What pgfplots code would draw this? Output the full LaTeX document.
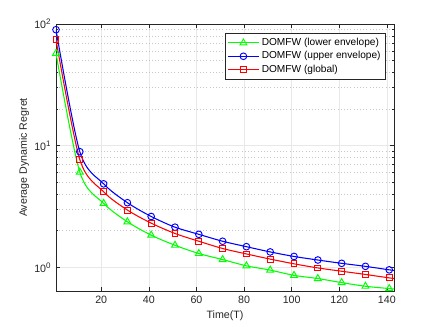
\documentclass[border=0pt]{standalone}
\usepackage{pgfplots}
\pgfplotsset{compat=1.18}
\usepackage{fontspec}
\setmainfont{Liberation Sans}
\definecolor{mgreen}{rgb}{0,1,0}
\definecolor{mblue}{rgb}{0,0,1}
\definecolor{mred}{rgb}{1,0,0}
\definecolor{axgray}{rgb}{0.15,0.15,0.15}
\begin{document}
\begin{tikzpicture}
\path[use as bounding box] (0,0) rectangle (327pt,245.25pt);
\begin{axis}[
  at={(42pt,27pt)}, anchor=south west,
  scale only axis, width=253.5pt, height=200.25pt,
  ymode=log, xmin=1, xmax=143, ymin=0.64, ymax=100,
  xtick={20,40,...,140},
  ytick={1,10,100},
  yticklabels={10\textsuperscript{0},10\textsuperscript{1},10\textsuperscript{2}},
  /pgf/number format/assume math mode=true,
  ticklabel style={font=\fontsize{8}{9}\selectfont, text=axgray},
  label style={font=\fontsize{8}{9}\selectfont, text=axgray},
  xlabel={Time(T)}, ylabel={Average Dynamic Regret},
  xlabel style={yshift=1pt},
  ylabel style={yshift=-3pt},
  axis line style={axgray, line width=0.5pt},
  tick style={axgray, line width=0.4pt},
  tick align=inside, major tick length=3pt, minor tick length=1.8pt,
  xmajorgrids, ymajorgrids, yminorgrids,
  major grid style={gray!18, solid, line width=0.4pt},
  minor grid style={gray!45, dotted, line width=0.4pt},
  legend style={at={(0.975,0.965)}, anchor=north east,
    font=\fontsize{7.6}{9}\selectfont, draw=axgray, line width=0.4pt,
    inner sep=1.5pt, row sep=-1pt, cells={anchor=west}},
  legend image code/.code={\draw[mark indices={2}]
    plot coordinates {(0cm,0cm)(0.4cm,0cm)(0.8cm,0cm)};},
]
\addplot[mgreen, line width=0.8pt, smooth, mark=triangle, mark size=3pt,
  mark indices={1,...,15}, mark options={solid, line width=0.7pt}]
  coordinates {(1,57.4)(11,6.07)(21,3.36)(31,2.37)(41,1.84)(51,1.52)(61,1.30)(71,1.16)
  (81,1.03)(91,0.95)(101,0.86)(111,0.81)(121,0.75)(131,0.70)(141,0.67)(143,0.665)};
\addlegendentry{DOMFW (lower envelope)}
\addplot[mblue, line width=0.8pt, smooth, mark=o, mark size=2.5pt,
  mark indices={1,...,15}, mark options={solid, line width=0.7pt}]
  coordinates {(1,89.8)(11,8.93)(21,4.86)(31,3.40)(41,2.62)(51,2.14)(61,1.87)(71,1.64)
  (81,1.48)(91,1.34)(101,1.23)(111,1.15)(121,1.08)(131,1.02)(141,0.955)(143,0.945)};
\addlegendentry{DOMFW (upper envelope)}
\addplot[mred, line width=0.8pt, smooth, mark=square, mark size=2.2pt,
  mark indices={1,...,15}, mark options={solid, line width=0.7pt}]
  coordinates {(1,74.3)(11,7.7)(21,4.18)(31,2.96)(41,2.31)(51,1.90)(61,1.64)(71,1.43)
  (81,1.29)(91,1.17)(101,1.07)(111,0.99)(121,0.93)(131,0.875)(141,0.82)(143,0.81)};
\addlegendentry{DOMFW (global)}
\end{axis}
\end{tikzpicture}
\end{document}
